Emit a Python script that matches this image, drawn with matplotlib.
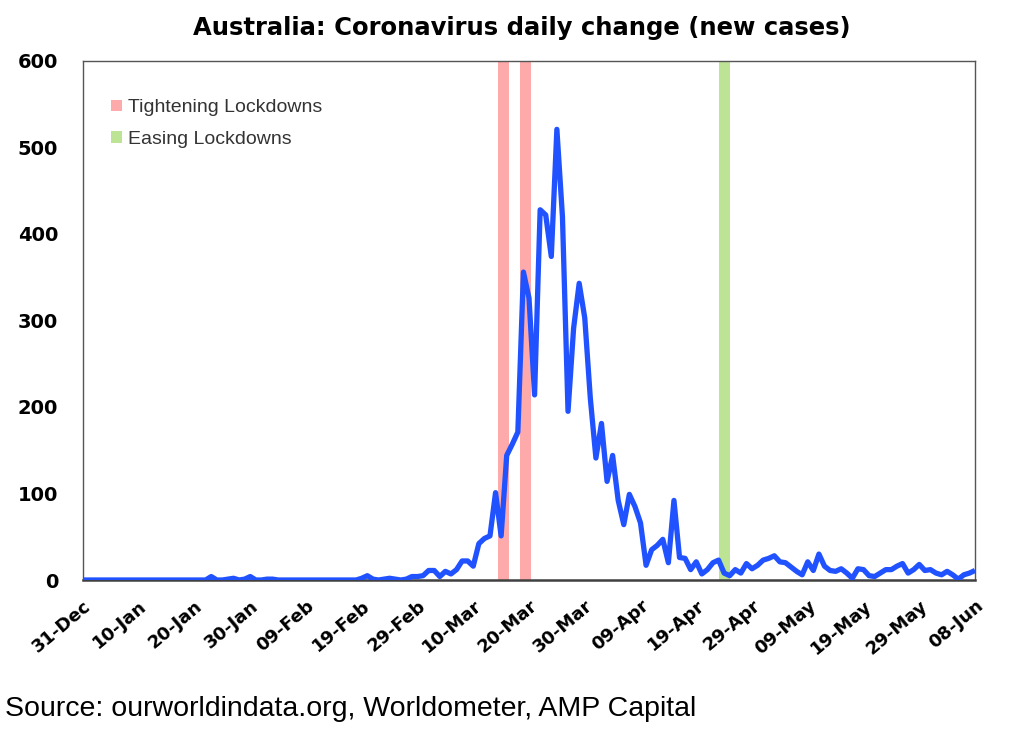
import numpy as np
import matplotlib
matplotlib.use("Agg")
import matplotlib.pyplot as plt
from matplotlib.patches import Patch

# ---- data ----
cases = [0] * 23 + [
    4, 0, 0, 1, 2, 0, 1, 4, 0, 0, 1, 1, 0,            # 23-35
] + [0] * 14 + [                                       # 36-49
    2, 5, 1, 0, 1, 2, 1, 0, 1, 4,                      # 50-59
    4, 5, 11, 11, 4, 10, 7, 12, 22, 22,                # 60-69
    16, 42, 48, 51, 101, 51, 144, 157, 171, 356,       # 70-79
    326, 214, 428, 422, 374, 521, 420, 195, 291, 343,  # 80-89
    303, 210, 141, 181, 114, 144, 92, 64, 99, 85,      # 90-99
    66, 17, 35, 40, 47, 20, 92, 26, 25, 12,            # 100-109
    21, 7, 12, 20, 23, 8, 5, 12, 8, 19,                # 110-119
    13, 17, 23, 25, 28, 21, 20, 15, 10, 6,             # 120-129
    21, 11, 30, 16, 11, 10, 13, 8, 2, 13,              # 130-139
    12, 5, 4, 8, 12, 12, 16, 19, 8, 12,                # 140-149
    18, 11, 12, 8, 6, 10, 6, 1, 6, 8,                  # 150-159
    11,                                                # 160
]
days = np.arange(len(cases))

tick_labels = ['31-Dec', '10-Jan', '20-Jan', '30-Jan', '09-Feb', '19-Feb',
               '29-Feb', '10-Mar', '20-Mar', '30-Mar', '09-Apr', '19-Apr',
               '29-Apr', '09-May', '19-May', '29-May', '08-Jun']
tick_days = np.arange(0, 161, 10)

tightening_spans = [(74.4, 76.5), (78.4, 80.4)]
easing_spans = [(114.0, 116.1)]

y_ticks = [0, 100, 200, 300, 400, 500, 600]

# ---- figure ----
fig = plt.figure(figsize=(10.24, 7.30), dpi=100)
ax = fig.add_axes([83 / 1024, 150 / 730, 892 / 1024, 519 / 730])

red = '#FFAAAA'
green = '#BDE395'
for a, b in tightening_spans:
    ax.axvspan(a, b, color=red, lw=0, zorder=1)
for a, b in easing_spans:
    ax.axvspan(a, b, color=green, lw=0, zorder=1)

ax.plot(days, cases, color='#2152FF', lw=3.8, solid_joinstyle='round',
        solid_capstyle='butt', zorder=3)

ax.set_xlim(0, 160)
ax.set_ylim(0, 600)
ax.set_yticks(y_ticks)
ax.set_yticklabels([str(v) for v in y_ticks], fontfamily='DejaVu Sans',
                   fontweight='bold', fontsize=14)
ax.set_xticks(tick_days)
ax.set_xticklabels(tick_labels, fontfamily='DejaVu Sans', fontweight='bold',
                   fontsize=13, rotation=40, ha='right', va='top',
                   rotation_mode='anchor')
ax.tick_params(axis='y', length=0, pad=18)
ax.tick_params(axis='x', length=0, pad=12)

for s in ['left', 'top', 'right']:
    ax.spines[s].set_color('#555555')
    ax.spines[s].set_linewidth(1.0)
ax.spines['bottom'].set_color('#404040')
ax.spines['bottom'].set_linewidth(1.8)

handles = [Patch(facecolor=red, edgecolor='none', label='Tightening Lockdowns'),
           Patch(facecolor=green, edgecolor='none', label='Easing Lockdowns')]
leg = ax.legend(handles=handles, loc='upper left', frameon=False,
                bbox_to_anchor=(0.012, 0.96), handlelength=0.55,
                handleheight=0.55, handletextpad=0.3, labelspacing=0.75,
                prop={'family': 'Liberation Sans', 'size': 14})
for t in leg.get_texts():
    t.set_color('#333333')

fig.text(522 / 1024, 1 - 28 / 730,
         'Australia: Coronavirus daily change (new cases)',
         ha='center', va='center', fontfamily='DejaVu Sans',
         fontweight='bold', fontsize=17.5)
fig.text(5 / 1024, 1 - 709 / 730,
         'Source: ourworldindata.org, Worldometer, AMP Capital',
         ha='left', va='center', fontfamily='Liberation Sans', fontsize=20.5)

fig.savefig('out.png', dpi=100)
